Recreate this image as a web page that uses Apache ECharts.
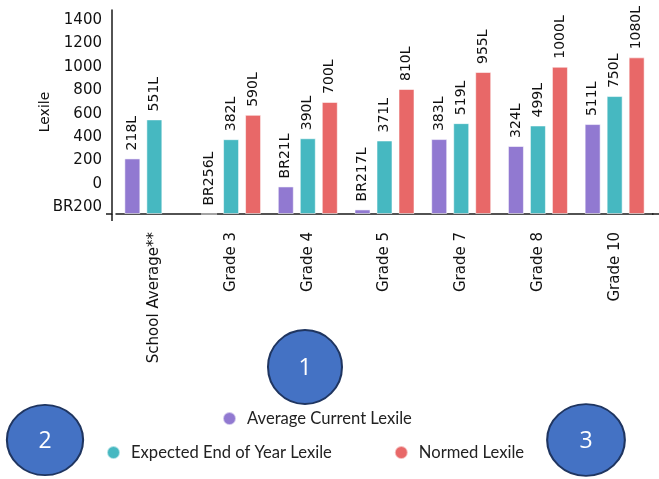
<!DOCTYPE html>
<html>
<head>
<meta charset="utf-8">
<script src="https://cdn.jsdelivr.net/npm/echarts@6/dist/echarts.min.js"></script>
<style>
html,body{margin:0;padding:0;background:#fff;}
#chart{width:659px;height:479px;}
</style>
</head>
<body>
<div id="chart"></div>
<script>
const categories = ['School Average**', 'Grade 3', 'Grade 4', 'Grade 5', 'Grade 7', 'Grade 8', 'Grade 10'];
const currentLexile = [218, -256, -21, -217, 383, 324, 511];
const expectedLexile = [551, 382, 390, 371, 519, 499, 750];
const normedLexile = [null, 590, 700, 810, 955, 1000, 1080];
const yTickValues = [-200, 0, 200, 400, 600, 800, 1000, 1200, 1400];
const seriesNames = ['Average Current Lexile', 'Expected End of Year Lexile', 'Normed Lexile'];
const annotationNumbers = ['1', '2', '3'];

const AXIS_MIN = -256;
const AXIS_MAX = 1484;

function lex(v) { return v < 0 ? 'BR' + Math.abs(v) : String(v); }
function shift(arr) { return arr.map(v => v == null ? null : v - AXIS_MIN); }

const chart = echarts.init(document.getElementById('chart'), null, {renderer: 'canvas'});
const font = 'DejaVu Sans';
const colors = ['#9179D1', '#46B8C1', '#E86868'];
const raw = [currentLexile, expectedLexile, normedLexile];

function barSeries(i) {
  return {
    name: seriesNames[i],
    type: 'bar',
    data: shift(raw[i]),
    barWidth: 16,
    barGap: '37.5%',
    itemStyle: {color: colors[i], borderColor: 'rgba(255,255,255,0.55)', borderWidth: 1},
    label: {
      show: true, position: 'top', rotate: 90, align: 'left', verticalAlign: 'middle',
      distance: 8, fontFamily: font, fontSize: 14, color: '#111',
      formatter: p => raw[i][p.dataIndex] == null ? '' : lex(raw[i][p.dataIndex]) + 'L'
    }
  };
}

function bubble(n, cx, cy, sx, sy) {
  return {
    type: 'group', x: cx, y: cy, z: 100,
    children: [
      {
        type: 'circle', scaleX: sx, scaleY: sy,
        shape: {cx: 0, cy: 0, r: 37},
        style: {fill: '#4472C4', stroke: '#1F3560', lineWidth: 2}
      },
      {
        type: 'text', x: 0, y: 1,
        style: {text: n, fill: '#ffffff', fontSize: 23, fontFamily: 'Open Sans', align: 'center', verticalAlign: 'middle'}
      }
    ]
  };
}

const legendText = {fontFamily: 'Lato', fontSize: 16.6, color: '#222', padding: [0, 0, 0, 6]};

chart.setOption({
  animation: false,
  grid: {left: 116, right: 6, top: 10, bottom: 265},
  legend: [
    {
      data: [seriesNames[0]], left: 217, top: 405, icon: 'circle', itemWidth: 13, itemHeight: 13,
      textStyle: legendText
    },
    {
      data: [seriesNames[1], seriesNames[2]], left: 101, top: 439, icon: 'circle', itemWidth: 13, itemHeight: 13,
      itemGap: 62,
      textStyle: legendText
    }
  ],
  xAxis: {
    type: 'category', data: categories,
    axisLine: {lineStyle: {color: '#1a1a1a', width: 1.5}},
    axisTick: {show: false},
    axisLabel: {rotate: 90, margin: 18, fontFamily: font, fontSize: 15, color: '#111', interval: 0}
  },
  yAxis: {
    type: 'value', min: 0, max: AXIS_MAX - AXIS_MIN, offset: 4,
    name: 'Lexile', nameLocation: 'middle', nameRotate: 90, nameGap: 60,
    nameMoveOverlap: false,
    nameTextStyle: {fontFamily: font, fontSize: 14, color: '#111'},
    axisLine: {show: true, lineStyle: {color: '#1a1a1a', width: 1.5}},
    axisTick: {show: false},
    splitLine: {show: false},
    axisLabel: {
      customValues: yTickValues.map(v => v - AXIS_MIN),
      margin: 10, fontFamily: font, fontSize: 15, color: '#111',
      formatter: v => lex(Math.round(v + AXIS_MIN))
    }
  },
  series: [barSeries(0), barSeries(1), barSeries(2)],
  graphic: [
    {type: 'line', shape: {x1: 112, y1: 214, x2: 112, y2: 221}, style: {stroke: '#1a1a1a', lineWidth: 1.5}},
    {type: 'line', shape: {x1: 106, y1: 214, x2: 112, y2: 214}, style: {stroke: '#1a1a1a', lineWidth: 1.5}},
    {type: 'line', shape: {x1: 652, y1: 214, x2: 659, y2: 214}, style: {stroke: '#1a1a1a', lineWidth: 1.5}},
    bubble(annotationNumbers[0], 305, 367, 1.0, 1.0),
    bubble(annotationNumbers[1], 45, 440, 1.03, 0.95),
    bubble(annotationNumbers[2], 586, 440, 1.05, 0.97)
  ]
});
</script>
</body>
</html>
